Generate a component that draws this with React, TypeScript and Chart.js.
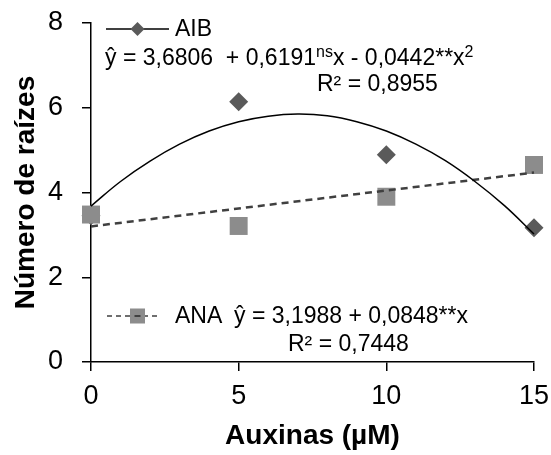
import React, { useEffect, useRef } from 'react';
import { Chart, registerables } from 'chart.js';

Chart.register(...registerables);

// ---- data ----
const X_TICKS = [0, 5, 10, 15];
const Y_TICKS = [0, 2, 4, 6, 8];
const DOSES = [0, 5, 10, 15];
const AIB_VALUES = [3.45, 6.14, 4.89, 3.17];
const ANA_VALUES = [3.48, 3.21, 3.9, 4.65];
// fitted curves
const AIB_FIT_X = [0, 1, 2, 3, 4, 5, 6, 7, 8, 9, 10, 11, 12, 13, 14, 15];
const AIB_FIT_Y = [3.68, 4.26, 4.74, 5.14, 5.45, 5.67, 5.8, 5.85, 5.81, 5.67, 5.45, 5.14, 4.75, 4.26, 3.69, 3.02];
const ANA_FIT_X = [0, 15];
const ANA_FIT_Y = [3.2, 4.47];

// ---- texts ----
const X_TITLE = 'Auxinas (µM)';
const Y_TITLE = 'Número de raízes';
const AIB_NAME = 'AIB';
const ANA_NAME = 'ANA';
const AIB_EQ: Array<[string, boolean]> = [
  ['ŷ = 3,6806  + 0,6191', false],
  ['ns', true],
  ['x - 0,0442**x', false],
  ['2', true],
];
const AIB_R2 = 'R² = 0,8955';
const ANA_EQ = 'ŷ = 3,1988 + 0,0848**x';
const ANA_R2 = 'R² = 0,7448';

const FONT = '"Liberation Sans", Arial, Helvetica, sans-serif';
const AIB_COLOR = '#5a5a5a';
const ANA_COLOR = '#8c8c8c';
const ANN_SIZE = 23;

function toPoints(xs: number[], ys: number[]) {
  return xs.map((x, i) => ({ x, y: ys[i] }));
}

function drawRich(ctx: CanvasRenderingContext2D, parts: Array<[string, boolean]>, x: number, y: number, size: number) {
  let cx = x;
  for (const [txt, sup] of parts) {
    if (sup) {
      ctx.font = `${Math.round(size * 0.7)}px ${FONT}`;
      ctx.fillText(txt, cx, y - size * 0.36);
    } else {
      ctx.font = `${size}px ${FONT}`;
      ctx.fillText(txt, cx, y);
    }
    cx += ctx.measureText(txt).width;
  }
}

const annotationPlugin = {
  id: 'eqAnnotations',
  afterDraw(chart: any) {
    const { ctx, chartArea: ca } = chart;
    const L = ca.left;
    const T = ca.top;
    const B = ca.bottom;
    ctx.save();
    ctx.textAlign = 'left';
    ctx.fillStyle = '#000';

    // AIB legend entry
    const yA = T + 6;
    ctx.strokeStyle = '#000';
    ctx.lineWidth = 1.5;
    ctx.setLineDash([]);
    ctx.beginPath();
    ctx.moveTo(L + 15, yA);
    ctx.lineTo(L + 78, yA);
    ctx.stroke();
    ctx.fillStyle = AIB_COLOR;
    const dx = L + 46.5;
    const r = 7;
    ctx.beginPath();
    ctx.moveTo(dx - r, yA);
    ctx.lineTo(dx, yA - r);
    ctx.lineTo(dx + r, yA);
    ctx.lineTo(dx, yA + r);
    ctx.closePath();
    ctx.fill();
    ctx.fillStyle = '#000';
    ctx.textBaseline = 'middle';
    ctx.font = `${ANN_SIZE}px ${FONT}`;
    ctx.fillText(AIB_NAME, L + 84, yA + 1);

    ctx.textBaseline = 'alphabetic';
    drawRich(ctx, AIB_EQ, L + 14, T + 42, ANN_SIZE);
    ctx.font = `${ANN_SIZE}px ${FONT}`;
    ctx.fillText(AIB_R2, L + 226, T + 68);

    // ANA legend entry
    const yN = B - 46;
    ctx.strokeStyle = '#404040';
    ctx.lineWidth = 1.5;
    ctx.setLineDash([5, 4]);
    ctx.beginPath();
    ctx.moveTo(L + 16, yN);
    ctx.lineTo(L + 70, yN);
    ctx.stroke();
    ctx.setLineDash([]);
    ctx.fillStyle = ANA_COLOR;
    ctx.fillRect(L + 46.5 - 7.5, yN - 7.5, 15, 15);
    ctx.fillStyle = '#404040';
    ctx.fillRect(L + 46.5 - 3, yN - 1, 6, 2);
    ctx.fillStyle = '#000';
    ctx.textBaseline = 'middle';
    ctx.font = `${ANN_SIZE}px ${FONT}`;
    ctx.fillText(ANA_NAME, L + 84, yN + 1);
    ctx.fillText(ANA_EQ, L + 143, yN + 1);
    ctx.textBaseline = 'alphabetic';
    ctx.fillText(ANA_R2, L + 197, B - 11);
    ctx.restore();
  },
};

export default function App() {
  const ref = useRef<HTMLCanvasElement | null>(null);

  useEffect(() => {
    document.body.style.margin = '0';
    if (!ref.current) return;
    Chart.defaults.font.family = FONT;
    const tickFont = { family: FONT, size: 27 };
    const titleFont = { family: FONT, size: 28, weight: 'bold' as const };

    const chart = new Chart(ref.current, {
      type: 'scatter',
      data: {
        datasets: [
          {
            label: 'AIB ajuste',
            data: toPoints(AIB_FIT_X, AIB_FIT_Y),
            showLine: true,
            borderColor: '#000',
            borderWidth: 1.5,
            pointRadius: 0,
            tension: 0.4,
            fill: false,
            clip: false,
          },
          {
            label: 'ANA ajuste',
            data: toPoints(ANA_FIT_X, ANA_FIT_Y),
            showLine: true,
            borderColor: '#404040',
            borderWidth: 2.5,
            borderDash: [7, 5],
            pointRadius: 0,
            fill: false,
            clip: false,
          },
          {
            label: ANA_NAME,
            data: toPoints(DOSES, ANA_VALUES),
            showLine: false,
            pointStyle: 'rect',
            pointRadius: 12.7,
            backgroundColor: ANA_COLOR,
            borderWidth: 0,
            clip: false,
          },
          {
            label: AIB_NAME,
            data: toPoints(DOSES, AIB_VALUES),
            showLine: false,
            pointStyle: 'rectRot',
            pointRadius: 9.5,
            backgroundColor: AIB_COLOR,
            borderWidth: 0,
            clip: false,
          },
        ],
      },
      options: {
        responsive: false,
        animation: false,
        devicePixelRatio: 1,
        layout: { padding: { top: 23, right: 17, left: 0, bottom: 0 } },
        plugins: {
          legend: { display: false },
          tooltip: { enabled: false },
        },
        scales: {
          x: {
            type: 'linear',
            min: X_TICKS[0],
            max: X_TICKS[X_TICKS.length - 1],
            afterBuildTicks: (s: any) => {
              s.ticks = X_TICKS.map((v) => ({ value: v }));
            },
            afterFit: (s: any) => {
              s.height = 93;
              s.paddingLeft = 0;
              s.paddingRight = 0;
            },
            ticks: { font: tickFont, color: '#000', padding: 9, maxRotation: 0 },
            grid: { drawOnChartArea: false, drawTicks: true, tickLength: 9, color: '#000', lineWidth: 1.5 },
            border: { display: true, color: '#000', width: 1.5 },
            title: { display: true, text: X_TITLE, font: titleFont, color: '#000', padding: { top: 0, bottom: 2 } },
          },
          y: {
            type: 'linear',
            min: Y_TICKS[0],
            max: Y_TICKS[Y_TICKS.length - 1],
            afterBuildTicks: (s: any) => {
              s.ticks = Y_TICKS.map((v) => ({ value: v }));
            },
            afterFit: (s: any) => {
              s.width = 91;
              s.paddingTop = 0;
              s.paddingBottom = 0;
            },
            ticks: { font: tickFont, color: '#000', padding: 19 },
            grid: { drawOnChartArea: false, drawTicks: true, tickLength: 9, color: '#000', lineWidth: 1.5 },
            border: { display: true, color: '#000', width: 1.5 },
            title: { display: true, text: Y_TITLE, font: titleFont, color: '#000', padding: { top: 9, bottom: 0 } },
          },
        },
      },
      plugins: [annotationPlugin],
    });
    return () => chart.destroy();
  }, []);

  return (
    <div style={{ position: 'absolute', left: 0, top: 0, width: 551, height: 455, background: '#fff' }}>
      <canvas ref={ref} width={551} height={455} style={{ display: 'block' }} />
    </div>
  );
}
